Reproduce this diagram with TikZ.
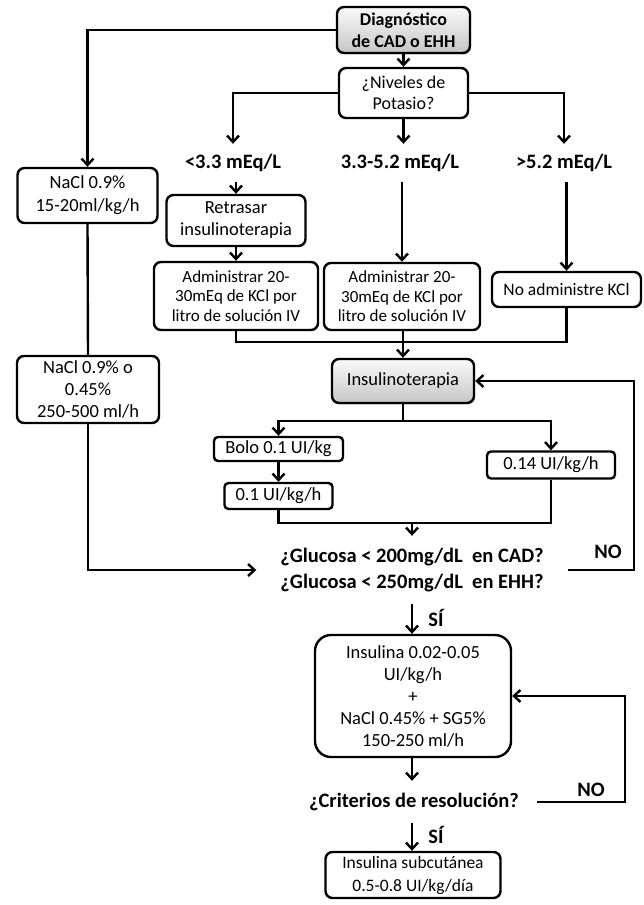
\documentclass[tikz,border=0pt]{standalone}
\usepackage{fontspec}
\setmainfont{Carlito}
\usetikzlibrary{arrows.meta,shadows}
\begin{document}
\begin{tikzpicture}[x=1pt,y=-1pt,line width=2.4pt,
  box/.style={draw, rounded corners=7pt, align=center, inner sep=0pt, font=\fontsize{18.5}{22}\selectfont},
  gbox/.style={box, top color=gray!4, bottom color=gray!45, drop shadow={shadow xshift=1.2pt, shadow yshift=-1.5pt, opacity=0.3}},
  lbl/.style={font=\bfseries\fontsize{20.5}{26}\selectfont, inner sep=0pt, align=center},
  arr/.style={-{Straight Barb[length=6.5pt,width=12pt]}}]
\useasboundingbox (0,0) rectangle (644,905);
% nodes
\node[gbox, minimum width=133, minimum height=46, font=\bfseries\fontsize{18}{22.5}\selectfont] (diag) at (403.5,30) {Diagnóstico\\de CAD o EHH};
\node[box, minimum width=129, minimum height=50, font=\fontsize{18}{21}\selectfont] (niv) at (403.5,93) {¿Niveles de\\Potasio?};
\node[lbl, minimum height=36] (l1) at (233,163) {<3.3 mEq/L};
\node[lbl, minimum height=36] (l2) at (400,163) {3.3-5.2 mEq/L};
\node[lbl, minimum height=36] (l3) at (564,163) {>5.2 mEq/L};
\node[box, minimum width=140, minimum height=55, font=\fontsize{18.5}{23}\selectfont] (nacl1) at (87.5,195.5) {NaCl 0.9\%\\15-20ml/kg/h};
\node[box, minimum width=139, minimum height=51] (retr) at (236,220.5) {Retrasar\\insulinoterapia};
\node[box, minimum width=164, minimum height=68, font=\fontsize{17}{19.5}\selectfont] (adm1) at (236,296) {Administrar 20-\\30mEq de KCl por\\litro de solución IV};
\node[box, minimum width=156, minimum height=67, font=\fontsize{17}{19.5}\selectfont] (adm2) at (402,296.5) {Administrar 20-\\30mEq de KCl por\\litro de solución IV};
\node[box, minimum width=149, minimum height=35, font=\fontsize{17.5}{21}\selectfont] (noadm) at (566.5,289.5) {No administre KCl};
\node[gbox, minimum width=142, minimum height=44] (insul) at (403,381) {Insulinoterapia};
\node[box, minimum width=142, minimum height=67] (nacl2) at (88,389.5) {NaCl 0.9\% o\\0.45\%\\250-500 ml/h};
\node[box, minimum width=129, minimum height=24, rounded corners=4pt] (bolo) at (278.5,449) {Bolo 0.1 UI/kg};
\node[box, minimum width=128, minimum height=27, rounded corners=4pt] (p14) at (551,465) {0.14 UI/kg/h};
\node[box, minimum width=108, minimum height=26, rounded corners=4pt] (p1) at (278.5,496) {0.1 UI/kg/h};
\node[lbl, minimum width=309, minimum height=66] (gluc) at (412,570) {¿Glucosa < 200mg/dL\ \ en CAD?\\¿Glucosa < 250mg/dL\ \ en EHH?};
\node[lbl] (no1) at (608,552) {NO};
\node[lbl] (si1) at (436,618) {SÍ};
\node[box, rounded corners=16pt, minimum width=196, minimum height=122] (ins2) at (413,696) {Insulina 0.02-0.05\\UI/kg/h\\+\\NaCl 0.45\% + SG5\%\\150-250 ml/h};
\node[lbl, minimum width=244, minimum height=40] (crit) at (414,802) {¿Criterios de resolución?};
\node[lbl] (no2) at (591,790) {NO};
\node[lbl] (si2) at (436,835) {SÍ};
\node[box, minimum width=175, minimum height=46, font=\fontsize{17.5}{23}\selectfont] (fin) at (413,875) {Insulina subcutánea\\0.5-0.8 UI/kg/día};
\coordinate (j1) at (403,342);
\coordinate (j3) at (412,523);
% connectors
\draw[arr] (diag.west) -| (nacl1.north);
\draw[arr] (diag.south) -- (niv.north);
\draw[arr] (niv.west) -| (l1.north);
\draw[arr] (niv.south) -- (niv.south |- l2.north);
\draw[arr] (niv.east) -| (l3.north);
\draw[arr] (retr.north |- l1.south) -- (retr.north);
\draw[arr] (retr.south) -- (adm1.north);
\draw[arr] (adm2.north |- l2.south) -- (adm2.north);
\draw[arr] (noadm.north |- l3.south) -- (noadm.north);
\draw (adm1.south) |- (j1) -| (noadm.south);
\draw[arr] (insul.north |- adm2.south) -- (insul.north);
\draw (nacl1.south) -- (nacl2.north);
\draw[arr] (nacl2.south) |- (gluc.west);
\draw[arr] (insul.south) -- ++(0,17) -| (bolo.north);
\draw[arr] (insul.south) -- ++(0,17) -| (p14.north);
\draw[arr] (bolo.south) -- (p1.north);
\draw (p1.south) |- (j3) -| (p14.south);
\draw[arr] (j3) -- (gluc.north);
\draw[arr] (gluc.east) -- ++(66,0) |- (insul.east);
\draw[arr] (gluc.south) -- (gluc.south |- ins2.north);
\draw[arr] (gluc.south |- ins2.south) -- (gluc.south |- crit.north);
\draw[arr] (crit.east) -- ++(88,0) |- (ins2.east);
\draw[arr] (gluc.south |- crit.south) -- (gluc.south |- fin.north);
\end{tikzpicture}
\end{document}
